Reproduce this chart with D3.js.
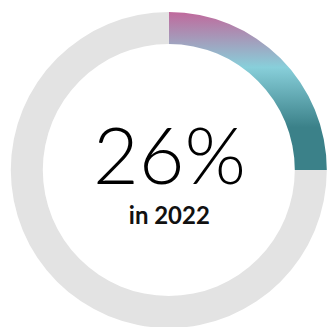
<!DOCTYPE html>
<html>
<head>
<meta charset="utf-8">
<script src="https://cdn.jsdelivr.net/npm/d3@7"></script>
<style>
  html, body { margin: 0; padding: 0; background: #fff; }
  svg { display: block; }
</style>
</head>
<body>
<svg id="chart" width="328" height="327"></svg>
<script>
const segments = ['filled', 'rest'];
const shares = [25, 75];
const bigLabel = '26%';
const subLabel = 'in 2022';

const svg = d3.select('#chart');
const cx = 168.8, cy = 170;
const outerR = 158, innerR = 126;

// vertical gradient pink -> cyan -> teal (coords local to the ring group)
const defs = svg.append('defs');
const grad = defs.append('linearGradient')
  .attr('id', 'ringGrad')
  .attr('gradientUnits', 'userSpaceOnUse')
  .attr('x1', 0).attr('x2', 0)
  .attr('y1', -outerR).attr('y2', 0);
grad.append('stop').attr('offset', '0').attr('stop-color', '#c0699c');
grad.append('stop').attr('offset', '0.35').attr('stop-color', '#88cfda');
grad.append('stop').attr('offset', '0.73').attr('stop-color', '#3b8189');
grad.append('stop').attr('offset', '1').attr('stop-color', '#3b8189');

const pie = d3.pie().sort(null).value(d => d);
const arc = d3.arc().innerRadius(innerR).outerRadius(outerR);

const g = svg.append('g')
  .attr('transform', `translate(${cx}, ${cy})`);

g.selectAll('path')
  .data(pie(shares))
  .enter()
  .append('path')
  .attr('d', arc)
  .attr('fill', (d, i) => i === 0 ? 'url(#ringGrad)' : '#e3e3e3');

// labels, sized to the reference widths
const big = g.append('text')
  .attr('x', 0.7)
  .attr('y', 14)
  .attr('text-anchor', 'middle')
  .style('font-family', 'Lato, sans-serif')
  .style('font-weight', 300)
  .style('font-size', '76px')
  .attr('fill', '#000')
  .text(bigLabel);
const bw = big.node().getComputedTextLength();
big.style('font-size', (76 * 153 / bw) + 'px');

const small = g.append('text')
  .attr('x', 0.5)
  .attr('y', 54)
  .attr('text-anchor', 'middle')
  .style('font-family', 'Lato, sans-serif')
  .style('font-weight', 700)
  .style('font-size', '21px')
  .attr('fill', '#111')
  .text(subLabel);
const sw = small.node().getComputedTextLength();
small.style('font-size', (21 * 81 / sw) + 'px');
</script>
</body>
</html>
